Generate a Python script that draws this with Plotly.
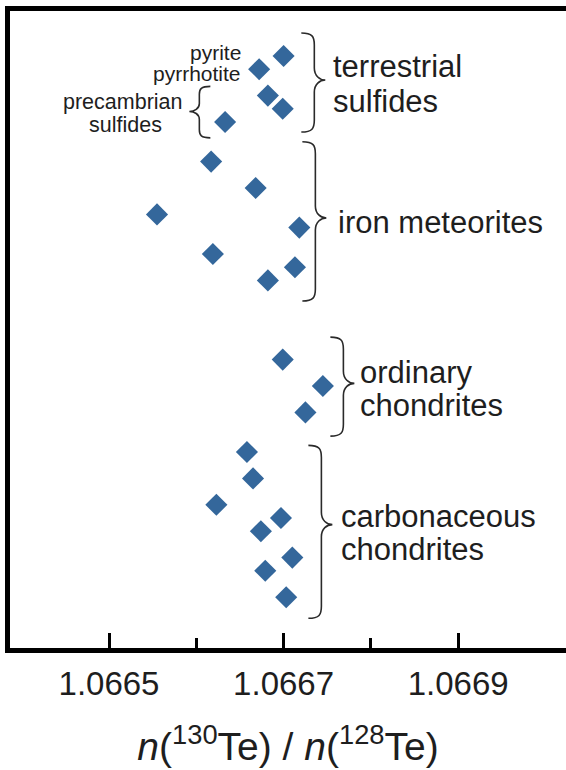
import plotly.graph_objects as go

# ---- data ----
terrestrial_x = [1.066700, 1.066672, 1.066682, 1.066699, 1.066633]
terrestrial_y = [0, 1, 3, 4, 5]
iron_x = [1.066617, 1.066668, 1.066555, 1.066718, 1.066619, 1.066713, 1.066682]
iron_y = [8, 10, 12, 13, 15, 16, 17]
ordinary_x = [1.066699, 1.066745, 1.066725]
ordinary_y = [23, 25, 27]
carbonaceous_x = [1.066658, 1.066665, 1.066623, 1.066697, 1.066674, 1.066710, 1.066679, 1.066703]
carbonaceous_y = [30, 32, 34, 35, 36, 38, 39, 41]

major_ticks = [1.0665, 1.0667, 1.0669]
minor_ticks = [1.0666, 1.0668]

# ---- layout parameters ----
W, H = 566, 770
ML, MR, MT, MB = 10, 0, 11, 122
XR = [1.0663866, 1.0670235]
YR = [44.85, -3.41]
sx = (XR[1] - XR[0]) / (W - ML - MR)   # data units per pixel (x)
sy = (YR[0] - YR[1]) / (H - MT - MB)   # data units per pixel (y)

COLOR = "#34679b"
FONT = "Liberation Sans, Arial, sans-serif"
TXT = "#1e1e1e"

fig = go.Figure()
all_x = terrestrial_x + iron_x + ordinary_x + carbonaceous_x
all_y = terrestrial_y + iron_y + ordinary_y + carbonaceous_y
fig.add_trace(go.Scatter(
    x=all_x, y=all_y, mode="markers",
    marker=dict(symbol="diamond", size=17, color=COLOR, line=dict(width=0)),
    hoverinfo="x", showlegend=False))

# braces: (x_body, y_top, y_bottom, y_tip, direction)
braces = [
    (1.0667352, -1.74, 5.76, 1.82, 1),
    (1.0667364, 6.5, 18.56, 12.27, 1),
    (1.0667685, 21.3, 28.8, 24.8, 1),
    (1.0667433, 29.5, 42.6, 35.5, 1),
    (1.0666035, 2.3, 6.2, 4.2, -1),
]
hook_px, tip_px, r_px = 13, 11, 12
shapes = []
for xb, yt, yb, ym, d in braces:
    hk = hook_px * sx * d
    tp = tip_px * sx * d
    r = r_px * sy
    if d < 0:
        r = 8 * sy
        tp = 10 * sx * d
        hk = 11 * sx * d
    p = (f"M {xb - hk},{yt} "
         f"C {xb - 0.15*hk},{yt} {xb},{yt + 0.3*r} {xb},{yt + r} "
         f"L {xb},{ym - r} "
         f"C {xb},{ym - 0.35*r} {xb + 0.5*tp},{ym} {xb + tp},{ym} "
         f"C {xb + 0.5*tp},{ym} {xb},{ym + 0.35*r} {xb},{ym + r} "
         f"L {xb},{yb - r} "
         f"C {xb},{yb - 0.3*r} {xb - 0.15*hk},{yb} {xb - hk},{yb}")
    shapes.append(dict(type="path", path=p, xref="x", yref="y",
                       line=dict(color="#2a2a2a", width=1.6)))

# group labels: (text, x, y, xanchor, size)
labels = [
    ("terrestrial", 1.0667554, 0.83, "left", 31),
    ("sulfides", 1.0667554, 3.48, "left", 31),
    ("iron meteorites", 1.0667612, 12.58, "left", 31),
    ("ordinary", 1.0667864, 23.94, "left", 31),
    ("chondrites", 1.0667864, 26.44, "left", 31),
    ("carbonaceous", 1.0667646, 34.92, "left", 31),
    ("chondrites", 1.0667646, 37.42, "left", 31),
    ("pyrite", 1.0666523, -0.30, "right", 21),
    ("pyrrhotite", 1.0666523, 1.29, "right", 21),
    ("precambrian", 1.0665160, 3.48, "center", 21.5),
    ("sulfides", 1.0665190, 5.23, "center", 21.5),
]
annotations = []
for t, x, y, xa, s in labels:
    annotations.append(dict(text=t, x=x, y=y, xref="x", yref="y",
                            xanchor=xa, yanchor="middle", showarrow=False,
                            borderpad=0,
                            font=dict(family=FONT, size=s, color=TXT)))

fig.update_layout(
    width=W, height=H, margin=dict(l=ML, r=MR, t=MT, b=MB),
    plot_bgcolor="white", paper_bgcolor="white",
    shapes=shapes, annotations=annotations,
    xaxis=dict(range=XR, showgrid=False, zeroline=False,
               showline=True, linecolor="black", linewidth=4.5, mirror=True,
               tickvals=major_ticks, ticktext=[f"{v:.4f}" for v in major_ticks],
               ticks="inside", ticklen=15, tickwidth=3, tickcolor="black",
               minor=dict(tickvals=minor_ticks, ticks="inside", ticklen=10,
                          tickwidth=3, tickcolor="black"),
               tickfont=dict(family=FONT, size=33, color=TXT),
               ticklabelstandoff=3,
               title=dict(text="<i>n</i>(<sup>130</sup>Te) / <i>n</i>(<sup>128</sup>Te)",
                          font=dict(family=FONT, size=39, color=TXT), standoff=33)),
    yaxis=dict(range=YR, showgrid=False, zeroline=False, showticklabels=False,
               showline=True, linecolor="black", linewidth=4.5, ticks=""),
)

fig.write_html("out.html",
               config={"displayModeBar": False},
               post_script="document.body.style.margin='0';document.body.style.overflow='hidden';")
